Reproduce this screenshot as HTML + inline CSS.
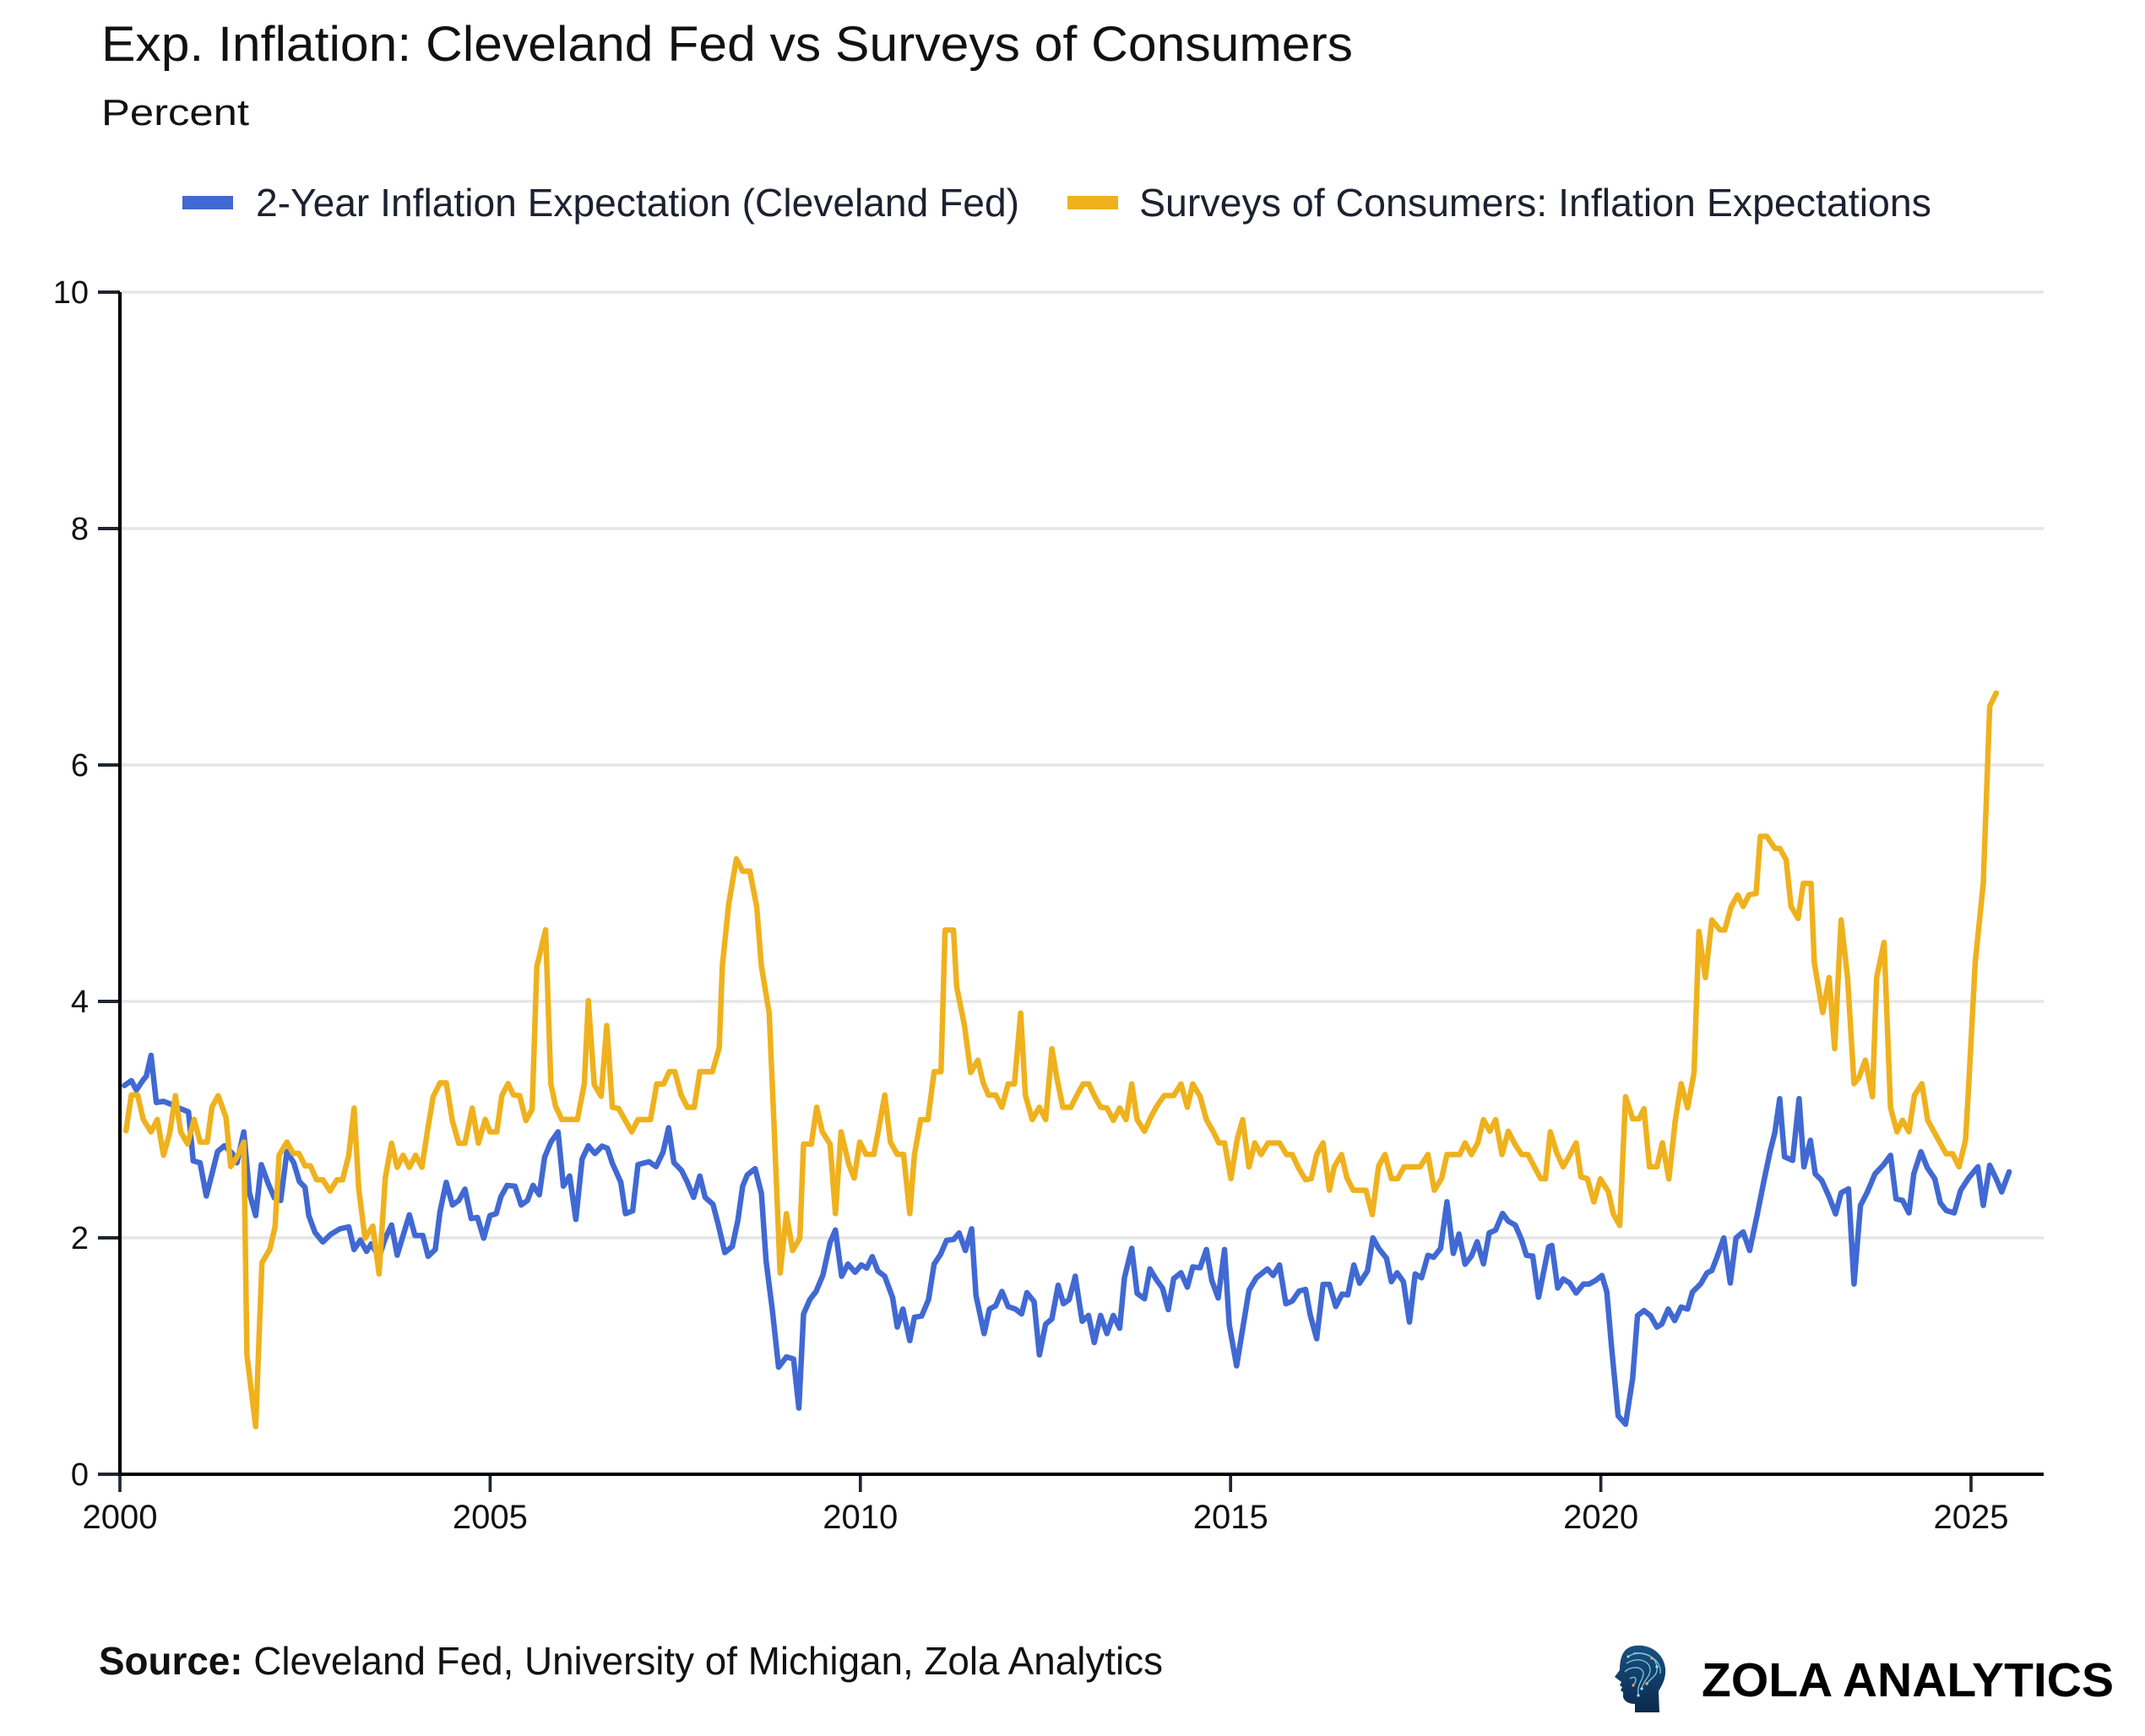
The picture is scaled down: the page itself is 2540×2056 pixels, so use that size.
<!DOCTYPE html>
<html>
<head>
<meta charset="utf-8">
<style>
  html, body { margin: 0; padding: 0; background: #ffffff; }
  svg { display: block; }
  text { font-family: "Liberation Sans", "DejaVu Sans", sans-serif; }
</style>
</head>
<body>
<svg width="2540" height="2056" viewBox="0 0 2540 2056" xmlns="http://www.w3.org/2000/svg">
  <rect x="0" y="0" width="2540" height="2056" fill="#ffffff"/>

  <!-- Title -->
  <text x="120" y="72" font-size="58" fill="#111111" textLength="1482" lengthAdjust="spacingAndGlyphs">Exp. Inflation: Cleveland Fed vs Surveys of Consumers</text>
  <text x="120" y="148" font-size="44" fill="#111111" textLength="175" lengthAdjust="spacingAndGlyphs">Percent</text>

  <!-- Legend -->
  <rect x="216" y="232" width="60" height="16" fill="#4169D3"/>
  <text x="303" y="256" font-size="46" fill="#1c2130" textLength="904" lengthAdjust="spacingAndGlyphs">2-Year Inflation Expectation (Cleveland Fed)</text>
  <rect x="1264" y="232" width="60" height="16" fill="#EFB11D"/>
  <text x="1349" y="256" font-size="46" fill="#1c2130" textLength="938" lengthAdjust="spacingAndGlyphs">Surveys of Consumers: Inflation Expectations</text>

  <!-- Gridlines -->
  <g stroke="#e6e6e6" stroke-width="3.6">
    <line x1="142" y1="346" x2="2420" y2="346"/>
    <line x1="142" y1="626" x2="2420" y2="626"/>
    <line x1="142" y1="906" x2="2420" y2="906"/>
    <line x1="142" y1="1186" x2="2420" y2="1186"/>
    <line x1="142" y1="1466" x2="2420" y2="1466"/>
  </g>

  <!-- Y ticks -->
  <g stroke="#1f2633" stroke-width="4">
    <line x1="116" y1="346" x2="142" y2="346"/>
    <line x1="116" y1="626" x2="142" y2="626"/>
    <line x1="116" y1="906" x2="142" y2="906"/>
    <line x1="116" y1="1186" x2="142" y2="1186"/>
    <line x1="116" y1="1466" x2="142" y2="1466"/>
    <line x1="116" y1="1746" x2="142" y2="1746"/>
  </g>
  <!-- X ticks -->
  <g stroke="#1f2633" stroke-width="3.7">
    <line x1="142" y1="1746" x2="142" y2="1767"/>
    <line x1="580.4" y1="1746" x2="580.4" y2="1767"/>
    <line x1="1018.8" y1="1746" x2="1018.8" y2="1767"/>
    <line x1="1457.2" y1="1746" x2="1457.2" y2="1767"/>
    <line x1="1895.6" y1="1746" x2="1895.6" y2="1767"/>
    <line x1="2334" y1="1746" x2="2334" y2="1767"/>
  </g>

  <!-- Y labels -->
  <g font-size="38" fill="#111111" text-anchor="end">
    <text x="105" y="359">10</text>
    <text x="105" y="639">8</text>
    <text x="105" y="919">6</text>
    <text x="105" y="1199">4</text>
    <text x="105" y="1479">2</text>
    <text x="105" y="1759">0</text>
  </g>
  <!-- X labels -->
  <g font-size="40" fill="#111111" text-anchor="middle">
    <text x="142" y="1810">2000</text>
    <text x="580.4" y="1810">2005</text>
    <text x="1018.8" y="1810">2010</text>
    <text x="1457.2" y="1810">2015</text>
    <text x="1895.6" y="1810">2020</text>
    <text x="2334" y="1810">2025</text>
  </g>

  <!-- Blue series -->
  <g fill="none" stroke="#4169D3" stroke-width="6.5" stroke-linejoin="round" stroke-linecap="round">
    <g transform="translate(140,1020) scale(0.3699,0.44643)">
      <polyline vector-effect="non-scaling-stroke" points="20,595 42,582 58,607 80,580 90,570 105,515 122,640 145,637 170,645 195,655 225,665 240,795 262,800 282,888 300,830 318,770 340,755 365,775 380,800 402,718 420,880 440,940 458,805 480,855 500,893 520,900 540,770 562,800 580,850 598,865 610,940 630,985 655,1010 680,990 710,975 738,970 755,1030 775,1005 795,1035 810,1015 835,1050 855,1000 875,965 893,1045 932,938 950,993 975,993 992,1048 1015,1030 1030,930 1050,852 1070,912 1090,900 1110,870 1130,948 1150,945 1170,1000 1190,940 1210,935 1225,890 1245,860 1270,862 1290,912 1310,900 1328,860 1348,885 1365,785 1385,745 1408,718 1425,862 1445,835 1465,950 1485,790 1505,755"/>
    </g>
    <g transform="translate(700,960) scale(0.3699,0.48469)">
      <polyline vector-effect="non-scaling-stroke" points="-9,819 12,838 35,820 52,825 68,862 95,908 110,985 133,978 150,865 185,858 208,870 230,835 248,775 265,860 290,880 308,908 328,945 348,893 365,945 390,962 408,1015 428,1080 452,1065 470,1000 485,918 500,890 525,875 545,935 560,1100 580,1220 600,1360 625,1335 648,1340 665,1460 680,1230 700,1195 720,1175 742,1135 765,1055 782,1025 802,1138 822,1108 845,1128 865,1110 882,1118 900,1090 918,1125 940,1138 965,1190 980,1262 998,1218 1020,1295 1035,1238 1058,1235 1080,1195 1098,1108 1118,1085 1138,1050 1160,1048 1178,1032 1198,1075 1218,1022 1232,1185 1258,1278 1275,1218 1295,1210 1315,1175 1335,1212 1358,1218 1378,1230 1395,1178 1418,1200 1435,1330 1455,1255 1475,1242 1495,1160 1512,1205 1530,1195 1550,1138"/>
    </g>
    <g transform="translate(1260,1000) scale(0.37628,0.45918)">
      <polyline vector-effect="non-scaling-stroke" points="35,1114 57,1230 77,1215 95,1285 115,1215 135,1262 155,1215 175,1248 190,1118 213,1042 230,1158 253,1172 270,1095 290,1122 310,1145 328,1200 345,1120 368,1105 388,1142 405,1090 428,1092 448,1045 465,1125 485,1170 505,1045 520,1240 543,1345 565,1235 582,1150 605,1118 640,1095 658,1112 678,1085 698,1185 718,1178 740,1152 760,1148 775,1215 795,1275 815,1135 835,1135 855,1192 875,1160 893,1162 912,1085 930,1132 955,1100 972,1015 990,1042 1015,1068 1030,1128 1048,1105 1068,1128 1087,1232 1105,1108 1125,1118 1145,1060 1163,1065 1185,1042 1205,922 1225,1055 1243,1005 1262,1083 1282,1062 1300,1025 1320,1082 1338,1002 1358,995 1380,952 1398,972 1420,982 1440,1020 1455,1060 1475,1062 1493,1168"/>
    </g>
    <g transform="translate(1830,790) scale(0.38265,0.59311)">
      <polyline vector-effect="non-scaling-stroke" points="-21,1258 10,1158 20,1155 38,1240 55,1222 75,1230 95,1250 118,1232 135,1232 155,1225 175,1215 190,1248 205,1360 225,1495 248,1512 270,1420 285,1295 305,1285 325,1295 345,1318 360,1312 380,1282 400,1305 420,1278 440,1282 455,1248 480,1232 500,1210 515,1205 530,1180 552,1140 572,1230 590,1140 612,1128 632,1165 655,1095 675,1030 695,968 710,930 725,862 740,978 765,985 785,862 800,998 820,945 835,1012 855,1025 878,1058 898,1092 915,1050 938,1042 955,1232 975,1075 995,1050 1020,1012 1045,995 1068,975 1085,1062 1105,1065 1125,1090 1140,1012 1162,968 1182,1000 1205,1022 1222,1070 1240,1085 1265,1090 1285,1045 1310,1020 1338,998 1355,1075 1375,995 1395,1022 1412,1048 1435,1008"/>
    </g>
  </g>

  <!-- Orange series -->
  <g fill="none" stroke="#EFB11D" stroke-width="6.5" stroke-linejoin="round" stroke-linecap="round">
    <g transform="translate(140,1020) scale(0.3699,0.44643)">
      <polyline vector-effect="non-scaling-stroke" points="25,715 42,620 62,620 80,685 105,718 125,685 145,780 165,720 183,622 200,718 222,750 243,685 262,745 285,745 300,652 320,622 345,680 360,810 380,785 402,745 412,1310 440,1500 460,1065 485,1030 502,970 515,780 540,745 560,775 578,775 598,808 615,808 635,845 655,845 678,875 700,845 718,845 738,780 755,655 770,870 790,1000 815,968 835,1095 855,840 875,748 893,812 912,780 932,812 952,780 972,812 990,715 1008,625 1030,588 1050,588 1070,690 1090,748 1110,748 1133,655 1153,748 1175,685 1190,718 1212,718 1228,622 1248,590 1265,620 1285,622 1305,688 1325,658 1340,280 1368,182 1385,590 1400,650 1420,685 1470,685 1492,590 1505,370"/>
    </g>
    <g transform="translate(700,960) scale(0.3699,0.48469)">
      <polyline vector-effect="non-scaling-stroke" points="-9,465 10,670 32,698 50,525 68,725 88,728 110,758 130,785 150,755 190,755 210,668 232,668 250,638 268,638 288,695 308,725 330,725 348,638 388,638 410,580 420,380 440,230 465,118 485,148 508,148 530,235 545,380 570,495 585,760 605,1130 625,985 645,1075 668,1045 680,815 705,815 722,725 740,785 765,815 782,985 800,785 825,865 842,898 860,810 880,840 905,840 920,780 940,695 958,810 980,840 1000,840 1020,985 1035,840 1055,755 1078,755 1098,638 1120,638 1133,292 1160,292 1170,430 1195,525 1215,640 1238,610 1255,665 1272,695 1295,695 1315,725 1335,668 1355,668 1375,495 1390,695 1412,755 1435,725 1455,755 1475,582 1490,650 1510,725 1535,725"/>
    </g>
    <g transform="translate(1260,1000) scale(0.37628,0.45918)">
      <polyline vector-effect="non-scaling-stroke" points="21,678 45,640 60,618 78,618 95,648 115,678 135,680 155,712 175,680 195,710 213,618 230,710 253,740 272,705 292,675 315,648 345,648 368,618 388,678 405,618 428,650 448,710 470,742 487,770 505,770 525,862 545,760 562,710 582,832 600,770 620,800 642,770 678,770 700,800 718,800 738,835 760,865 778,862 795,800 815,770 835,892 850,832 873,800 890,860 910,892 950,892 970,955 990,830 1010,800 1030,862 1050,862 1070,832 1120,832 1145,800 1165,892 1188,862 1205,800 1245,800 1262,770 1282,800 1302,770 1320,710 1340,740 1358,710 1378,800 1398,740 1420,775 1440,800 1460,800 1480,832 1500,862"/>
    </g>
    <g transform="translate(1830,790) scale(0.38265,0.59311)">
      <polyline vector-effect="non-scaling-stroke" points="-15,1021 0,1022 15,928 35,970 55,998 75,975 95,950 110,1018 130,1022 150,1068 170,1022 195,1048 210,1092 230,1115 248,858 270,902 290,902 305,882 322,998 345,998 362,950 382,1022 402,905 420,832 440,880 460,810 475,528 495,620 515,505 540,525 555,525 575,478 595,455 612,478 630,455 652,452 665,338 685,338 710,362 725,362 745,385 760,478 782,502 798,432 822,432 832,590 858,690 878,620 895,762 915,505 935,620 955,832 970,820 990,785 1012,858 1025,620 1048,550 1068,880 1088,928 1105,905 1125,928 1142,855 1165,832 1183,905 1240,972 1260,972 1280,998 1300,945 1310,835 1330,590 1355,432 1375,78 1395,52"/>
    </g>
  </g>

  <!-- Axes -->
  <line x1="142" y1="346" x2="142" y2="1748" stroke="#000000" stroke-width="4.2"/>
  <line x1="140" y1="1746" x2="2420" y2="1746" stroke="#000000" stroke-width="4"/>

  <!-- Source -->
  <text x="117" y="1983" font-size="46" fill="#111111" textLength="1260" lengthAdjust="spacingAndGlyphs"><tspan font-weight="bold">Source:</tspan> Cleveland Fed, University of Michigan, Zola Analytics</text>

  <!-- Logo -->
  <defs>
    <linearGradient id="hg" x1="0" y1="0" x2="0" y2="1">
      <stop offset="0" stop-color="#1b4f7e"/>
      <stop offset="1" stop-color="#0a2a4e"/>
    </linearGradient>
  </defs>
  <g transform="translate(1910,1948)">
    <path d="M 22 2 C 40 -3, 60 8, 62 28 C 63 40, 58 48, 54 55 L 55 80 L 26 80 L 26 70 C 20 70, 14 68, 12 62 L 12 56 L 9 54 L 11 50 L 8 48 L 10 44 L 2 38 L 8 30 C 8 15, 12 5, 22 2 Z" fill="url(#hg)"/>
    <g fill="none" stroke="#7fd3ea" stroke-width="1.4" opacity="0.9">
      <path d="M 18 14 C 30 6, 50 10, 52 26 C 54 36, 44 40, 40 46"/>
      <path d="M 16 22 C 28 14, 44 18, 44 30 C 44 38, 36 42, 34 52"/>
      <path d="M 14 32 C 22 24, 36 26, 36 34 C 36 42, 28 46, 30 60"/>
      <path d="M 24 10 C 40 8, 58 18, 56 34"/>
      <path d="M 20 40 C 26 36, 30 40, 24 48"/>
    </g>
    <g fill="#f2a07b">
      <circle cx="40" cy="46" r="1.8"/>
      <circle cx="24" cy="48" r="1.6"/>
      <circle cx="46" cy="16" r="1.6"/>
    </g>
    <g fill="#9fe6f5">
      <circle cx="34" cy="52" r="1.6"/>
      <circle cx="52" cy="26" r="1.6"/>
      <circle cx="30" cy="60" r="1.6"/>
      <circle cx="18" cy="14" r="1.5"/>
    </g>
  </g>
  <text x="2015" y="2009" font-size="57" font-weight="bold" fill="#000000" textLength="488" lengthAdjust="spacingAndGlyphs">ZOLA ANALYTICS</text>
</svg>
</body>
</html>
